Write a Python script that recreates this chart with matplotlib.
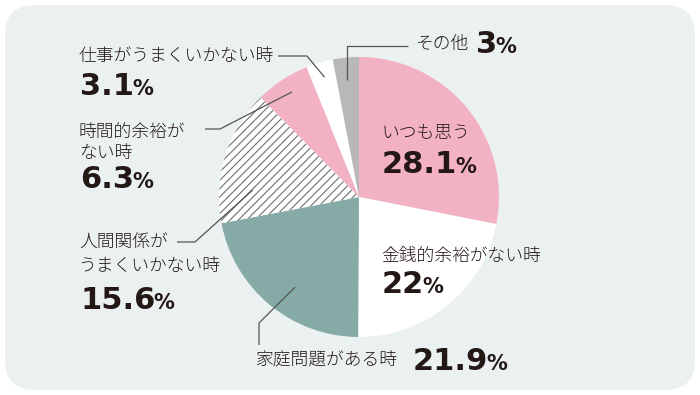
import numpy as np
import matplotlib
matplotlib.use("Agg")
import matplotlib.pyplot as plt
from matplotlib.patches import FancyBboxPatch

plt.rcParams['font.family'] = ['Noto Sans CJK JP', 'DejaVu Sans']
plt.rcParams['hatch.linewidth'] = 0.8

# data (clockwise from top)
labels = ['いつも思う', '金銭的余裕がない時', '家庭問題がある時',
          '人間関係がうまくいかない時', '時間的余裕がない時',
          '仕事がうまくいかない時', 'その他']
values = [28.1, 22, 21.9, 15.6, 6.3, 3.1, 3]
value_text = ['28.1', '22', '21.9', '15.6', '6.3', '3.1', '3']

colors = ['#f2b2c3', '#ffffff', '#86aaa6', '#ffffff', '#f2b2c3', '#ffffff', '#b8b8b8']
hatches = [None, None, None, '////', None, None, None]

W, H = 700, 395
ink = '#231815'
line_col = '#555555'

fig = plt.figure(figsize=(7, 3.95), dpi=100)
ax = fig.add_axes([0, 0, 1, 1])

def Y(y):
    # image-style y (from top) to axis y
    return H - y

bg = FancyBboxPatch((5, 5), 690, 385, boxstyle="round,pad=0,rounding_size=30",
                    fc='#ebf1f1', ec='none', zorder=0)
ax.add_patch(bg)

cx, cy, R = 359, Y(197), 140
wedges, _ = ax.pie(values, colors=colors, startangle=90, counterclock=False,
                   center=(cx, cy), radius=R,
                   wedgeprops=dict(linewidth=0))
for w, h in zip(wedges, hatches):
    w.set_zorder(2)
    if h:
        w.set_hatch(h)
        w.set_edgecolor('#707070')
        w.set_linewidth(0)

ax.set_xlim(0, W)
ax.set_ylim(0, H)
ax.set_aspect('auto')
ax.axis('off')


def anchor(i, t, f):
    w = wedges[i]
    a = np.radians(w.theta2 - t * (w.theta2 - w.theta1))
    return cx + f * R * np.cos(a), cy + f * R * np.sin(a)


# leader lines: (slice, position in slice, radial fraction, elbow points)
leaders = [
    (6, 0.45, 0.84, [None, (408, 46)]),
    (5, 0.53, 0.89, [(307, 56), (278, 56)]),
    (4, 0.535, 0.89, [(220, 129), (205, 129)]),
    (3, 0.26, 0.76, [(195, 242), (177, 242)]),
    (2, 0.444, 0.79, [(259, 323), (259, 345)]),
]
for i, t, f, pts in leaders:
    x0, y0 = anchor(i, t, f)
    xs, ys = [x0], [y0]
    for p in pts:
        if p is None:
            xs.append(x0)
            ys.append(Y(46))
        else:
            xs.append(p[0])
            ys.append(Y(p[1]))
    ax.plot(xs, ys, color=line_col, lw=0.9, zorder=3, solid_capstyle='butt')

fig.canvas.draw()
renderer = fig.canvas.get_renderer()


def pct(x, y, s, size=22, psize=15):
    t = ax.text(x, Y(y), s, fontsize=size, fontweight='bold', family='DejaVu Sans',
                color=ink, va='baseline', ha='left', zorder=5)
    bb = t.get_window_extent(renderer)
    ax.text(x + bb.width - 2, Y(y), '%', fontsize=psize, fontweight='bold',
            family='DejaVu Sans', color=ink, va='baseline', ha='left', zorder=5)
    return bb.width


def lab(x, y, s, size=12.8):
    return ax.text(x, Y(y), s, fontsize=size, fontweight='light', color=ink,
                   va='center', ha='left', zorder=5)


# いつも思う
lab(381, 133, labels[0])
pct(382, 173, value_text[0])
# 金銭的余裕がない時
lab(381, 256, labels[1])
pct(382, 293, value_text[1])
# 家庭問題がある時
lab(255, 361, labels[2])
pct(413, 370, value_text[2])
# 人間関係
lab(79, 243, '人間関係が')
lab(79, 266, 'うまくいかない時')
pct(80, 309, value_text[3])
# 時間的余裕
lab(79, 133, '時間的余裕が')
lab(79, 153, 'ない時')
pct(80, 188, value_text[4])
# 仕事
lab(79, 56, labels[5])
pct(80, 95, value_text[5])
# その他
lab(415, 44, labels[6])
pct(476, 53, value_text[6])

fig.savefig('out.png', dpi=100, facecolor='white')
